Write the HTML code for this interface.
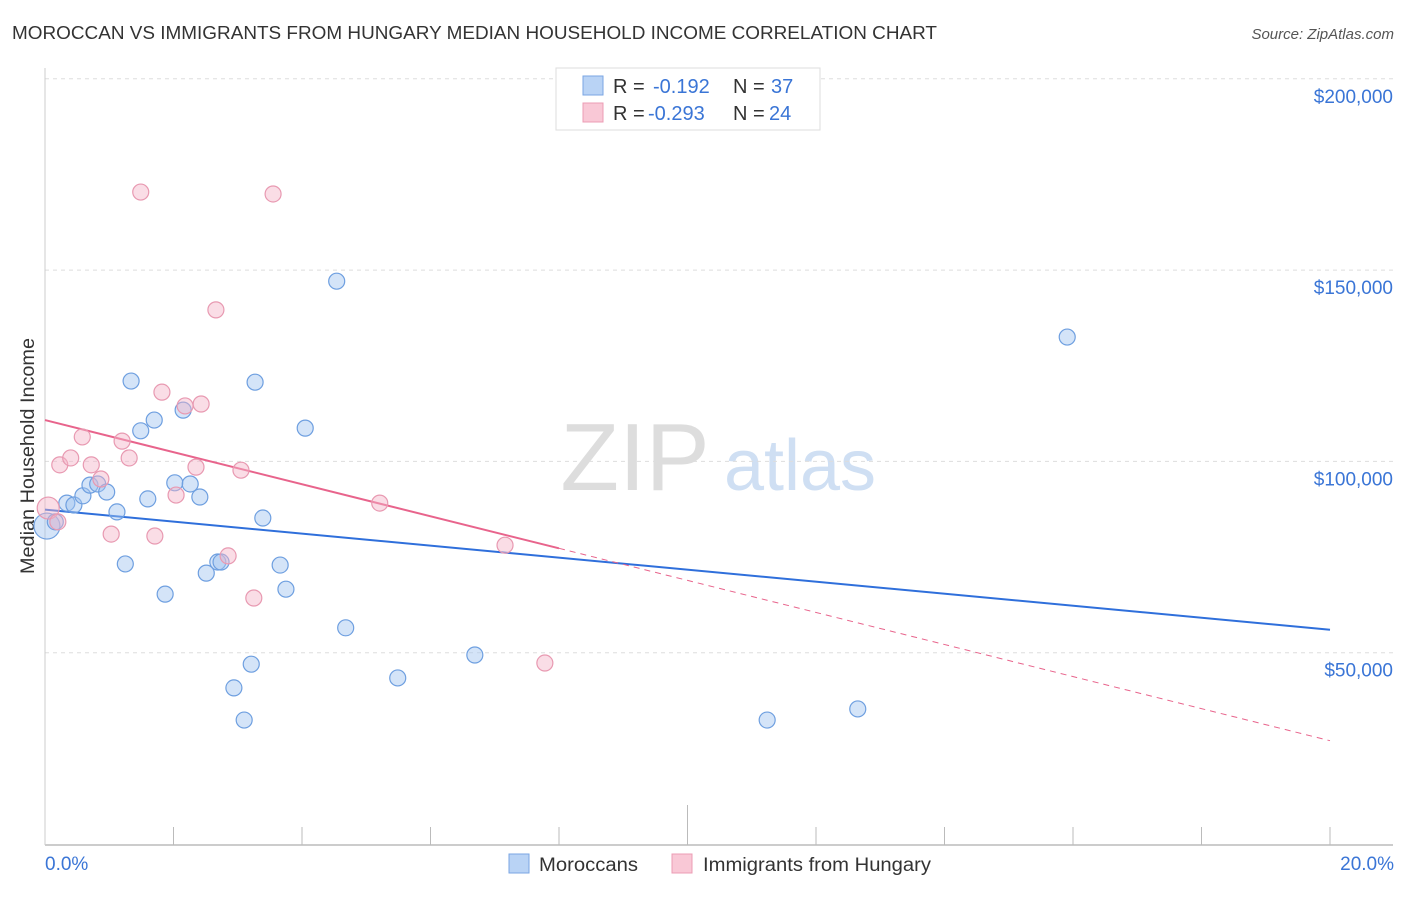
<!DOCTYPE html>
<html><head><meta charset="utf-8"><style>
body{margin:0;background:#fff;font-family:"Liberation Sans",sans-serif;}
svg text{font-family:"Liberation Sans",sans-serif;}
</style></head><body>
<svg id="chart" width="1406" height="892" xmlns="http://www.w3.org/2000/svg">
<text x="12" y="39" font-size="18" fill="#333" textLength="925" lengthAdjust="spacingAndGlyphs">MOROCCAN VS IMMIGRANTS FROM HUNGARY MEDIAN HOUSEHOLD INCOME CORRELATION CHART</text>
<text x="1394" y="39" font-size="15" font-style="italic" fill="#555" text-anchor="end">Source: ZipAtlas.com</text>
<text transform="translate(34,456) rotate(-90)" font-size="19" fill="#333" text-anchor="middle" textLength="236" lengthAdjust="spacingAndGlyphs">Median Household Income</text>
<g font-size="96" text-anchor="middle">
<text x="635" y="490" fill="#ddd" font-family="Liberation Serif,serif">ZIP</text>
<text x="800" y="490" fill="#cfdff3" font-size="72">atlas</text></g>
<g id="grid"></g><g id="axes"></g><g id="lines"></g><g id="pts"></g>
<g>
<rect x="556" y="68" width="264" height="62" fill="#fff" stroke="#ddd"/>
<rect x="583" y="76" width="20" height="19" fill="#b9d3f5" stroke="#7aa6e3"/>
<rect x="583" y="103" width="20" height="19" fill="#f9c8d6" stroke="#ec9cb4"/>
<text x="613" y="93" font-size="20" fill="#333">R = </text><text x="653" y="93" font-size="20" fill="#3a75d6">-0.192</text>
<text x="733" y="93" font-size="20" fill="#333">N = </text><text x="771" y="93" font-size="20" fill="#3a75d6">37</text>
<text x="613" y="120" font-size="20" fill="#333">R = </text><text x="648" y="120" font-size="20" fill="#3a75d6">-0.293</text>
<text x="733" y="120" font-size="20" fill="#333">N = </text><text x="769" y="120" font-size="20" fill="#3a75d6">24</text>
</g>
<g>
<rect x="509" y="854" width="20" height="19" fill="#b9d3f5" stroke="#7aa6e3"/>
<text x="539" y="871" font-size="19" fill="#333" textLength="99" lengthAdjust="spacingAndGlyphs">Moroccans</text>
<rect x="672" y="854" width="20" height="19" fill="#f9c8d6" stroke="#ec9cb4"/>
<text x="703" y="871" font-size="19" fill="#333" textLength="228" lengthAdjust="spacingAndGlyphs">Immigrants from Hungary</text>
</g>
<text x="45" y="870" font-size="19" fill="#3a75d6">0.0%</text>
<text x="1394" y="870" font-size="19" fill="#3a75d6" text-anchor="end">20.0%</text>
</svg>
<script>
const yTicks=[50000,100000,150000,200000];
const yTickLabels=["$50,000","$100,000","$150,000","$200,000"];
const blueX=[0.03,0.16,0.34,0.45,0.59,0.70,0.82,0.96,1.12,1.25,1.34,1.49,1.60,1.70,1.87,2.02,2.15,2.26,2.41,2.51,2.69,2.74,2.94,3.10,3.21,3.27,3.39,3.66,3.75,4.05,4.54,4.68,5.49,6.69,11.24,12.65,15.91];
const blueY=[83100,84200,89100,88600,91000,93800,94100,92000,86800,73200,121000,108000,90200,110800,65300,94400,113400,94100,90700,70800,73700,73700,40800,32400,47000,120700,85200,72900,66600,108700,147100,56500,43400,49400,32400,35300,132500];
const pinkX=[0.05,0.20,0.23,0.40,0.58,0.72,0.87,1.03,1.20,1.31,1.49,1.71,1.82,2.04,2.18,2.35,2.43,2.66,2.85,3.05,3.25,3.55,5.21,7.16,7.78];
const pinkY=[87800,84200,99100,100900,106400,99100,95400,81000,105300,100900,170400,80500,118100,91200,114500,98500,115000,139600,75300,97700,64300,169900,89100,78100,47300];
const blueTrend=[87400,56000];
const pinkTrend=[110800,27000];
const pinkSolidEnd=8.0;
const sx=v=>45+v/20*1285, sy=v=>844-v/50000*191.3;
const NS="http://www.w3.org/2000/svg";
function mk(p,t,a){const e=document.createElementNS(NS,t);for(const k in a)e.setAttribute(k,a[k]);document.getElementById(p).appendChild(e);return e;}
yTicks.forEach((v,i)=>{
 const l=mk('grid','line',{x1:45,x2:1393,y1:sy(v),y2:sy(v),stroke:'#ddd','stroke-dasharray':'4,4'});
 
 
 const t=mk('grid','text',{x:1393,y:sy(v)+24,'font-size':19,fill:'#3a75d6','text-anchor':'end'});
 t.textContent=yTickLabels[i];
 
 
});
const ax=mk('axes','line',{x1:45,x2:1393,y1:845,y2:845,stroke:'#bbb','stroke-width':1.5});


const ay=mk('axes','line',{x1:45,x2:45,y1:68,y2:845,stroke:'#ccc'});


for(let i=1;i<=10;i++){const x=sx(i*2);const t=mk('axes','line',{x1:x,x2:x,y1:i==5?805:827,y2:845,stroke:'#bbb'});
 
 }
blueX.forEach((x,i)=>{const c=mk('pts','circle',{cx:sx(x),cy:sy(blueY[i]),r:i==0?13:8,fill:'rgba(160,195,240,0.45)',stroke:'#6e9fe0','stroke-width':1.2});
 
 });
pinkX.forEach((x,i)=>{const c=mk('pts','circle',{cx:sx(x),cy:sy(pinkY[i]),r:i==0?11:8,fill:'rgba(245,180,200,0.45)',stroke:'#e899b1','stroke-width':1.2});
 
 });
const pv=x=>pinkTrend[0]+(pinkTrend[1]-pinkTrend[0])*x/20;
const bl=mk('lines','line',{x1:sx(0),y1:sy(blueTrend[0]),x2:sx(20),y2:sy(blueTrend[1]),stroke:'#2f6fdb','stroke-width':2});


const pl=mk('lines','line',{x1:sx(0),y1:sy(pinkTrend[0]),x2:sx(pinkSolidEnd),y2:sy(pv(pinkSolidEnd)),stroke:'#e8648c','stroke-width':2});


const pd=mk('lines','line',{x1:sx(pinkSolidEnd),y1:sy(pv(pinkSolidEnd)),x2:sx(20),y2:sy(pinkTrend[1]),stroke:'#e8648c','stroke-width':1,'stroke-dasharray':'6,5'});


</script>
</body></html>
